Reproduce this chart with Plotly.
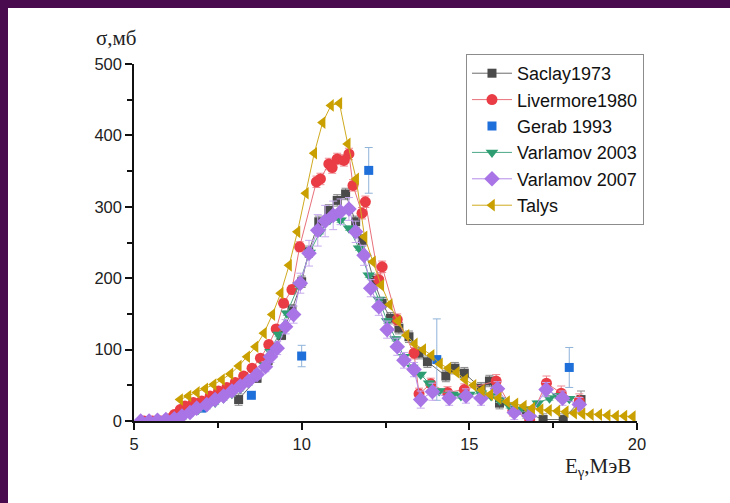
import plotly.graph_objects as go

# Photoneutron cross section data, energy in MeV, sigma in mb
saclay_e = [8.12, 8.67, 9.0, 9.4, 9.71, 10.0, 10.21, 10.51, 10.81, 11.06, 11.31, 11.61, 11.81,
            12.15, 12.4, 12.65, 12.9, 13.2, 13.5, 13.75, 14.3, 14.57, 14.85, 15.35, 15.6, 15.9,
            16.3, 16.7, 17.2, 17.8, 18.33]
saclay_s = [30, 60, 85, 120, 156, 195, 237, 279, 295, 309, 318, 279, 253,
            197, 165, 144, 130, 118, 95, 83, 63, 74, 67, 46, 56, 25,
            18, 12, 2, 2, 30]
saclay_err = [8, 6, 6, 6, 7, 8, 8, 8, 8, 8, 8, 8, 8,
              8, 8, 8, 8, 8, 8, 8, 8, 8, 8, 8, 8, 8,
              8, 8, 8, 8, 12]

livermore_e = [5.3, 5.55, 5.8, 6.05, 6.2, 6.38, 6.52, 6.77, 7.02, 7.27, 7.52, 7.77, 8.02, 8.27,
               8.52, 8.77, 9.02, 9.24, 9.46, 9.71, 9.94, 10.44, 10.56, 10.81, 10.91, 11.06, 11.26,
               11.41, 11.53, 11.8, 11.9, 12.3, 12.4, 12.85, 13.35, 13.5, 13.85, 14.35, 14.85,
               15.8, 16.3, 16.8, 17.3, 17.74, 18.28]
livermore_s = [0, 0, 0, 3, 9, 16, 21, 26, 28, 35, 42, 47, 54, 63,
               74, 88, 107, 129, 165, 184, 244, 335, 339, 360, 355, 367, 365,
               374, 330, 291, 307, 198, 216, 142, 95, 38, 52, 40, 44,
               56, 15, 2, 53, 39, 28]
livermore_err = [1, 1, 1, 2, 2, 3, 3, 3, 3, 3, 3, 3, 3, 4,
                 4, 4, 5, 5, 6, 6, 7, 8, 8, 8, 8, 8, 8,
                 8, 8, 8, 8, 8, 8, 8, 8, 8, 8, 8, 8,
                 9, 8, 8, 10, 10, 10]

gerab_e = [7.02, 8.5, 10.0, 12.0, 14.03, 17.98]
gerab_s = [18, 36, 91, 351, 86, 75]
gerab_err = [3, 3, 15, 32, 57, 28]

varl03_e = [5.3, 5.6, 5.9, 6.2, 6.45, 6.67, 6.92, 7.17, 7.42, 7.67, 7.92, 8.17, 8.42, 8.67,
            8.9, 9.07, 9.31, 9.56, 9.91, 10.24, 10.55, 10.84, 11.16, 11.41, 11.71, 12.0, 12.3,
            12.55, 12.8, 13.05, 13.3, 13.55, 13.8, 14.1, 14.5, 14.75, 15.0, 15.35, 15.65, 15.9,
            16.2, 16.5, 16.75, 17.04, 17.39, 17.64, 17.98]
varl03_s = [0, 0, 0, 0, 5, 10, 16, 20, 26, 32, 38, 45, 53, 63,
            78, 97, 121, 151, 190, 236, 265, 282, 281, 270, 242, 204, 170,
            140, 115, 90, 75, 65, 53, 42, 37, 35, 37, 39, 35, 29,
            21, 16, 16, 25, 32, 35, 31]
varl03_err = [3] * len(varl03_e)

varl07_e = [5.2, 5.45, 5.7, 5.95, 6.2, 6.43, 6.67, 6.87, 7.17, 7.42, 7.67, 7.92, 8.17, 8.42,
            8.67, 8.92, 9.07, 9.27, 9.52, 9.76, 9.96, 10.22, 10.48, 10.7, 10.94, 11.16, 11.41,
            11.61, 11.86, 12.06, 12.3, 12.55, 12.85, 13.05, 13.35, 13.55, 13.9, 14.4, 14.9,
            15.35, 15.84, 16.34, 16.79, 17.29, 17.78, 18.28]
varl07_s = [0, 0, 1, 2, 3, 7, 12, 18, 23, 30, 35, 42, 49, 56,
            65, 76, 90, 102, 132, 149, 193, 235, 267, 280, 288, 293, 297,
            265, 232, 186, 160, 128, 104, 85, 72, 30, 41, 32, 35,
            32, 45, 12, 7, 44, 32, 23]
varl07_err = [1, 1, 1, 1, 1, 2, 2, 3, 3, 3, 4, 4, 5, 5,
              6, 7, 8, 9, 10, 12, 14, 18, 22, 22, 20, 18, 16,
              15, 14, 12, 12, 12, 12, 11, 10, 12, 12, 10, 10,
              10, 10, 10, 10, 10, 10, 10]

talys_e = [6.375, 6.625, 6.875, 7.125, 7.375, 7.625, 7.875, 8.125, 8.375, 8.625, 8.875, 9.125,
           9.375, 9.625, 9.875, 10.125, 10.375, 10.625, 10.875, 11.125, 11.375, 11.625, 11.875,
           12.125, 12.375, 12.625, 12.875, 13.125, 13.375, 13.625, 13.875, 14.125, 14.375,
           14.625, 14.875, 15.125, 15.375, 15.625, 15.875, 16.125, 16.375, 16.625, 16.875,
           17.125, 17.375, 17.625, 17.875, 18.125, 18.375, 18.625, 18.875, 19.125, 19.375,
           19.625, 19.875]
talys_s = [30, 35, 40, 45, 51, 58, 66, 77, 90, 104, 123, 149,
           179, 218, 265, 319, 375, 418, 442, 445, 388, 339, 258,
           223, 190, 163, 140, 120, 108, 100, 92, 80, 74,
           68, 58, 50, 43, 37, 32, 27, 24, 21, 18,
           16, 15, 14, 13, 11, 10, 9, 9, 8, 7,
           7, 6]

x_ticks = [5, 10, 15, 20]
y_ticks = [0, 100, 200, 300, 400, 500]

fig = go.Figure()


def add_series(name, xs, ys, errs, marker_color, line_color, symbol, size, err_color, mode="lines+markers"):
    fig.add_trace(go.Scatter(
        x=xs, y=ys, name=name, mode=mode,
        line=dict(color=line_color, width=1),
        marker=dict(symbol=symbol, size=size, color=marker_color, line=dict(width=0)),
        error_y=None if errs is None else dict(type="data", array=errs, visible=True,
                                               color=err_color, thickness=1, width=4),
    ))


add_series("Saclay1973", saclay_e, saclay_s, saclay_err, "#4a4a4a", "#6b6b6b",
           "square", 9, "#8a8a8a")
add_series("Livermore1980", livermore_e, livermore_s, livermore_err, "#ea3c45", "#e8707a",
           "circle", 11, "#ef8a93")
add_series("Gerab 1993", gerab_e, gerab_s, gerab_err, "#1e6fd9", "#1e6fd9",
           "square", 9, "#8fb3d9", mode="markers")
add_series("Varlamov 2003", varl03_e, varl03_s, varl03_err, "#2e9e72", "#4aa886",
           "triangle-down", 11, "#86c4aa")
add_series("Varlamov 2007", varl07_e, varl07_s, varl07_err, "#a874e6", "#b48ae8",
           "diamond", 12, "#c7a9ee")
add_series("Talys", talys_e, talys_s, None, "#c9a000", "#d0aa20",
           "triangle-left", 11, None)

axis_font = dict(family="Liberation Sans, Arial, sans-serif", size=16.5, color="#222222")

fig.update_xaxes(
    range=[5, 20], tickvals=x_ticks, ticks="outside", ticklen=7, tickwidth=1.5,
    tickcolor="#111111", showline=True, linecolor="#111111", linewidth=1.5,
    showgrid=False, zeroline=False, mirror=False, tickfont=axis_font,
    minor=dict(tickvals=[7.5, 12.5, 17.5], ticks="outside", ticklen=5, tickwidth=1.5,
               tickcolor="#111111", showgrid=False),
)
fig.update_yaxes(
    range=[0, 500], tickvals=y_ticks, ticks="outside", ticklen=7, tickwidth=1.5,
    tickcolor="#111111", showline=True, linecolor="#111111", linewidth=1.5,
    showgrid=False, zeroline=False, mirror=False, tickfont=axis_font,
    minor=dict(tickvals=[50, 150, 250, 350, 450], ticks="outside", ticklen=5, tickwidth=1.5,
               tickcolor="#111111", showgrid=False),
)

serif = dict(family="Liberation Serif, Times New Roman, serif", size=21, color="#222222")

fig.update_layout(
    width=730, height=503,
    margin=dict(l=134, r=93, t=64, b=82),
    paper_bgcolor="#4a0b4e",
    plot_bgcolor="white",
    showlegend=True,
    legend=dict(
        x=0.66, y=1.028, xanchor="left", yanchor="top",
        bgcolor="white", bordercolor="#8c8c8c", borderwidth=1,
        font=dict(family="Liberation Sans, Arial, sans-serif", size=18, color="#111111"),
        tracegroupgap=0, itemsizing="trace", itemwidth=40,
    ),
    shapes=[dict(type="rect", xref="paper", yref="paper", layer="below",
                 x0=-0.2505, x1=1.19, y0=-0.24, y1=1.157,
                 fillcolor="white", line=dict(width=0))],
    annotations=[
        dict(text="σ,мб", xref="paper", yref="paper", x=-0.034, y=1.073,
             xanchor="center", yanchor="middle", showarrow=False, font=serif),
        dict(text="E<sub>γ</sub>,МэВ", xref="paper", yref="paper", x=0.993, y=-0.13,
             xanchor="right", yanchor="middle", showarrow=False, font=serif),
    ],
)

fig.write_html("out.html")
